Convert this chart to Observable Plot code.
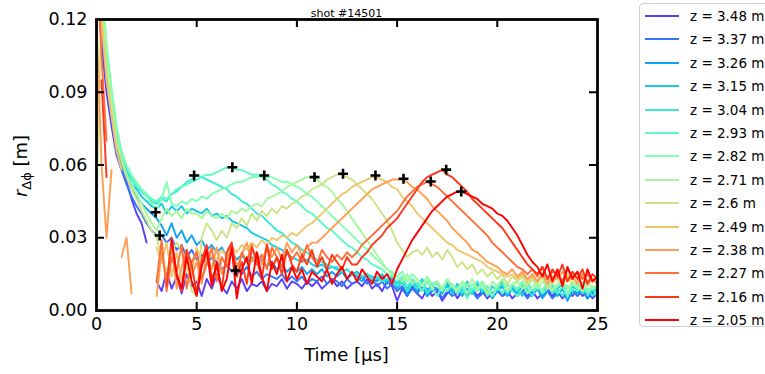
<!DOCTYPE html>
<html><head><meta charset="utf-8">
<script src="https://cdn.jsdelivr.net/npm/d3@7"></script>
<script src="https://cdn.jsdelivr.net/npm/@observablehq/plot@0.6"></script>
<style>
html,body{margin:0;padding:0;background:#fff;overflow:hidden;}
#wrap{position:relative;width:765px;height:374px;font-family:"DejaVu Sans",sans-serif;overflow:hidden;}
#wrap svg{position:absolute;left:0;top:0;}
#legend{position:absolute;left:639px;top:3px;width:160px;height:324px;border:1.3px solid #cfcfcf;border-radius:4px;background:#fff;box-sizing:border-box;}
.item{position:absolute;left:0;height:20px;display:flex;align-items:center;}
.sw{width:34px;height:0;border-top:2px solid;margin-left:5px;margin-right:11px;}
.lab{font-size:13.5px;color:#000;white-space:nowrap;}
</style></head>
<body><div id="wrap"><div id="legend"></div></div>
<script>
// time axis (μs)
const time = [0,0.25,0.5,0.75,1,1.25,1.5,1.75,2,2.25,2.5,2.75,3,3.25,3.5,3.75,4,4.25,4.5,4.75,5,5.25,5.5,5.75,6,6.25,6.5,6.75,7,7.25,7.5,7.75,8,8.25,8.5,8.75,9,9.25,9.5,9.75,10,10.25,10.5,10.75,11,11.25,11.5,11.75,12,12.25,12.5,12.75,13,13.25,13.5,13.75,14,14.25,14.5,14.75,15,15.25,15.5,15.75,16,16.25,16.5,16.75,17,17.25,17.5,17.75,18,18.25,18.5,18.75,19,19.25,19.5,19.75,20,20.25,20.5,20.75,21,21.25,21.5,21.75,22,22.25,22.5,22.75,23,23.25,23.5,23.75,24,24.25,24.5,24.75,25];

const labels = ["z = 3.48 m","z = 3.37 m","z = 3.26 m","z = 3.15 m","z = 3.04 m","z = 2.93 m","z = 2.82 m","z = 2.71 m","z = 2.6 m","z = 2.49 m","z = 2.38 m","z = 2.27 m","z = 2.16 m","z = 2.05 m"];

// r_Δϕ values in mm (null = no data)
const z348 = [140,110,90,76, 64,58,53,46, 40,36,28,null, 12,8,16,9, 14,7,15,10, 12,6,13,9, 15,10,7,12, 9,13,8,11, 10,12,8,11, 10,13,9,12, 11,9,12,10, 12,9,11,13, 10,12,9,11, 12,10,13,9, 11,8,12,10, 4,9,6,10, 7,5,9,6, 8,4,7,9, 5,8,6,9, 6,8,5,7, 9,6,8,5, 7,9,6,8, 5,7,9,6, 8,5,7,6, 9,6,8,5, 7];
const z337 = [150,118,95,80, 66,58,52,47, 43,40,36,33, 31,31,28,30, 25,27,22,25, 21,23,19,22, 20,17,19,16, 17,15,18,14, 16,13,15,14, 13,15,12,14, 12,14,11,13, 12,14,11,13, 12,10,13,11, 12,14,11,13, 10,12,9,11, 8,10,6,9, 7,10,6,8, 9,5,8,6, 7,9,6,8, 5,7,9,6, 8,6,7,9, 6,8,5,7, 9,6,8,5, 7,9,6,8, 6,8,5,7, 8];
const z326 = [160,125,98,82, 68,60,55,50, 47,44,42,40, 38,35,31,36, 30,33,28,31, 27,29,25,27, 24,26,22,24, 21,23,20,22, 19,21,18,20, 17,19,16,18, 16,18,15,17, 15,17,14,16, 14,16,13,15, 14,12,15,13, 12,14,11,13, 9,12,7,11, 8,12,6,10, 9,7,11,8, 10,6,9,7, 11,7,9,5, 8,10,6,9, 7,10,8,6, 9,5,8,10, 6,9,4,8, 7,10,5,8, 6];
const z315 = [165,128,100,84, 70,62,57,52, 50,47,45,43, 42,44,40,43, 41,43,40,42, 41,40,42,39, 40,38,39,37, 36,35,34,32, 31,30,29,27, 26,25,23,22, 21,20,21,19, 18,19,17,18, 17,16,17,15, 16,14,15,14, 13,15,12,14, 11,13,9,12, 10,13,8,11, 12,8,10,7, 11,8,12,7, 9,11,6,10, 8,12,7,10, 9,6,11,8, 10,7,12,8, 9,11,6,10, 8,10,7,9, 8];
const z304 = [170,130,104,88, 72,63,58,54, 51,49,47,45, 44,46,45,48, 49,51,53,54, 56,55,54,53, 52,51,50,48, 47,45,44,42, 40,39,37,35, 33,32,30,28, 27,25,24,22, 21,20,19,18, 18,16,17,15, 15,14,15,13, 14,12,13,12, 10,12,8,11, 9,12,7,10, 11,8,12,9, 10,7,11,8, 12,8,10,6, 9,11,7,10, 8,11,9,6, 10,8,12,7, 9,6,10,8, 11,7,9,6, 8];
const z293 = [175,135,108,90, 75,65,60,55, 52,50,48,46, 45,47,46,48, 50,51,52,53, 54,55,56,56, 57,58,59,59, 58,58,57,56, 56,55,54,52, 51,49,48,46, 45,43,41,40, 38,36,34,33, 31,29,27,26, 24,22,21,19, 18,17,15,14, 12,14,10,13, 11,8,12,9, 6,10,8,11, 7,10,5,9, 8,11,6,9, 10,7,11,8, 6,9,12,8, 10,7,9,11, 7,10,6,9, 8,11,7,9, 6];
const z282 = [180,140,110,92, 76,66,60,56, 53,50,47,44, 42,46,53,44, 43,45,44,46, 45,47,46,48, 49,50,51,52, 53,53,54,55, 55,56,55,55, 54,53,53,52, 51,50,48,47, 45,43,41,39, 37,35,33,31, 29,27,25,23, 21,19,17,16, 14,16,12,15, 13,10,14,11, 12,8,13,10, 9,12,7,11, 8,12,9,6, 10,13,8,11, 9,12,7,10, 11,8,12,9, 10,13,7,11, 9,12,8,10, 9];
const z271 = [170,132,104,86, 70,62,56,52, 48,44,40,36, 33,38,42,39, 41,38,42,40, 40,38,41,39, 38,40,38,41, 40,42,41,43, 44,43,46,47, 48,49,51,52, 53,54,55,55, 54,52,51,49, 46,44,41,38, 35,32,29,26, 23,20,17,15, 14,12,15,11, 13,10,14,9, 12,9,13,10, 8,12,10,13, 9,11,7,12, 10,13,8,11, 12,9,11,13, 9,12,10,8, 11,13,9,12, 10,8,12,9, 11];
const z260 = [45,125,100,84, 70,62,55,50, 46,41,37,33, 30,22,16,24, 28,25,18,8, 6,30,36,33, 29,33,30,36, 34,38,35,40, 37,41,39,42, 40,43,42,44, 45,47,48,50, 51,52,54,55, 56,56,55,54, 52,50,48,46, 43,40,37,33, 28,25,22,24, 25,23,26,22, 24,21,25,22, 18,20,17,19, 15,17,14,16, 13,15,11,14, 12,14,10,13, 11,14,9,12, 13,10,14,11, 12,15,10,13, 12];
const z249 = [160,120,95,80, 66,58,null,null, null,null,null,null, 26,20,28,14, 24,12,22,16, 26,20,24,22, 21,25,22,26, 24,27,25,28, 26,29,27,30, 29,31,30,32, 31,33,35,36, 38,40,42,44, 46,48,49,51, 52,53,54,55, 55,54,53,51, 50,47,45,43, 40,38,36,34, 32,30,28,27, 25,24,23,22, 21,20,18,17, 16,15,14,15, 13,15,12,14, 12,15,13,11, 14,12,15,13, 12,14,11,13, 12];
const z238 = [120,60,30,58, null,22,30,7, null,null,null,null, 6,24,12,27, 9,18,25,14, 20,11,23,17, 26,15,21,27, 18,23,28,20, 24,19,27,22, 26,21,28,24, 27,23,26,28, 28,30,32,34, 36,38,40,42, 44,46,48,50, 51,52,53,54, 54,54,53,51, 50,48,46,43, 41,39,37,34, 32,30,28,25, 24,22,20,19, 18,16,15,17, 14,16,13,15, 12,15,11,14, 13,16,12,14, 11,15,12,13, 11];
const z227 = [150,105,70,null, null,null,null,null, null,null,null,null, 12,29,8,22, 16,27,9,20, 24,13,19,26, 12,22,18,25, 14,24,20,27, 19,23,17,26, 22,18,25,21, 24,20,27,22, 19,25,22,20, 23,21,24,22, 24,27,29,31, 33,35,37,39, 41,44,47,49, 51,52,53,52, 51,49,47,45, 43,41,39,37, 35,33,31,28, 26,24,22,20, 18,17,15,17, 14,18,13,16, 15,12,17,14, 16,13,15,12, 14];
const z216 = [null,95,55,null, null,null,null,null, null,null,null,null, null,null,10,30, 14,8,25,19, 7,21,27,13, 18,9,24,28, 14,20,11,26, 21,13,27,17, 22,15,25,19, 16,23,19,25, 18,22,17,23, 20,17,22,19, 19,22,24,27, 29,31,34,36, 38,41,44,47, 50,53,55,56, 57,58,56,55, 53,51,49,46, 44,42,40,38, 36,34,31,28, 25,22,19,17, 15,18,13,17, 14,19,12,16, 13,17,11,15, 13];
const z205 = [null,null,null,null, null,null,null,null, null,null,null,null, null,null,null,29, 15,9,22,12, 6,18,25,10, 20,8,13,26, 5,17,22,11, 24,14,8,20, 15,23,12,18, 13,17,11,16, 14,12,17,11, 15,18,13,16, 12,17,14,11, 16,13,15,11, 17,21,25,29, 32,35,38,41, 43,45,47,48, 49,49,48,47, 46,44,43,42, 40,39,37,34, 31,27,23,20, 18,14,19,12, 17,10,18,13, 16,9,17,12, 14];

// peak markers
const peakT = [2.95, 3.15, 4.87, 6.78, 6.95, 8.37, 10.88, 12.3, 13.92, 15.32, 16.68, 17.45, 18.2];
const peakR = [0.0405, 0.0309, 0.0557, 0.0591, 0.0165, 0.0557, 0.0550, 0.0564, 0.0557, 0.0543, 0.0532, 0.0581, 0.0491];

// axis ticks
const xTicks = [0, 5, 10, 15, 20, 25];
const yTicks = [0, 0.03, 0.06, 0.09, 0.12];
const xInner = [5, 10, 15, 20];
const yInner = [0.03, 0.06, 0.09];

const colors = ["#573ffd","#3374f8","#0fa4f0","#16cbe5","#3ae8d7","#5ef9c6","#82ffb3","#a6f89e","#cae586","#eec66e","#ff9e53","#ff6e38","#ff381c","#ff0000"];

const seriesValues = [z348,z337,z326,z315,z304,z293,z282,z271,z260,z249,z238,z227,z216,z205];
const table = [];
labels.forEach((lab, k) => seriesValues[k].forEach((v, i) => table.push({t: time[i], r: v == null ? NaN : v / 1000, z: lab})));
const peaks = peakT.map((t, i) => ({t, r: peakR[i]}));

const plot = Plot.plot({
  width: 765, height: 374,
  marginLeft: 96, marginRight: 168, marginTop: 19, marginBottom: 64,
  style: {fontFamily: "DejaVu Sans", fontSize: "17.5px", color: "black", background: "transparent", overflow: "visible"},
  x: {domain: [0, 25], ticks: xTicks, tickSize: 0, tickPadding: 7, label: null, tickFormat: d => String(d)},
  y: {domain: [0, 0.12], ticks: yTicks, tickSize: 0, tickPadding: 9, label: null, tickFormat: d3.format(".2f")},
  color: {domain: labels, range: colors},
  marks: [
    Plot.line(table, {x: "t", y: "r", z: "z", stroke: "z", strokeWidth: 1.9, clip: true}),
    Plot.dot(peaks, {x: "t", y: "r", symbol: "plus", r: 3.3, stroke: "black", strokeWidth: 2.6}),
    Plot.tickX(xInner, {x: d => d, insetTop: 283, stroke: "black", strokeWidth: 2}),
    Plot.tickX(xInner, {x: d => d, insetBottom: 283, stroke: "black", strokeWidth: 2}),
    Plot.tickY(yInner, {y: d => d, insetRight: 493, stroke: "black", strokeWidth: 2}),
    Plot.tickY(yInner, {y: d => d, insetLeft: 493, stroke: "black", strokeWidth: 2}),
    Plot.frame({stroke: "black", strokeWidth: 2.8})
  ]
});

const svg = d3.select(plot);
const xs = plot.scale("x");
const cx = xs.apply(12.5);
svg.append("text").attr("x", cx).attr("y", 16.5).attr("text-anchor", "middle")
  .attr("font-size", 11).attr("font-family", "DejaVu Sans").attr("fill", "black").text("shot #14501");
svg.append("text").attr("x", cx).attr("y", 361).attr("text-anchor", "middle")
  .attr("font-size", 18).attr("font-family", "DejaVu Sans").attr("fill", "black").text("Time [μs]");
const yl = svg.append("text").attr("transform", "translate(27,166) rotate(-90)").attr("text-anchor", "middle")
  .attr("font-size", 18).attr("font-family", "DejaVu Sans").attr("fill", "black");
yl.append("tspan").attr("font-style", "italic").text("r");
yl.append("tspan").attr("font-size", 13).attr("dy", 4).text("Δϕ");
yl.append("tspan").attr("dy", -4).text(" [m]");

document.getElementById("wrap").prepend(plot);

const leg = document.getElementById("legend");
labels.forEach((lab, i) => {
  const it = document.createElement("div");
  it.className = "item";
  it.style.top = (2 + i * 23.4) + "px";
  const sw = document.createElement("div");
  sw.className = "sw";
  sw.style.borderTopColor = colors[i];
  const tx = document.createElement("span");
  tx.className = "lab";
  tx.textContent = lab;
  it.appendChild(sw); it.appendChild(tx);
  leg.appendChild(it);
});
</script>
</body></html>
